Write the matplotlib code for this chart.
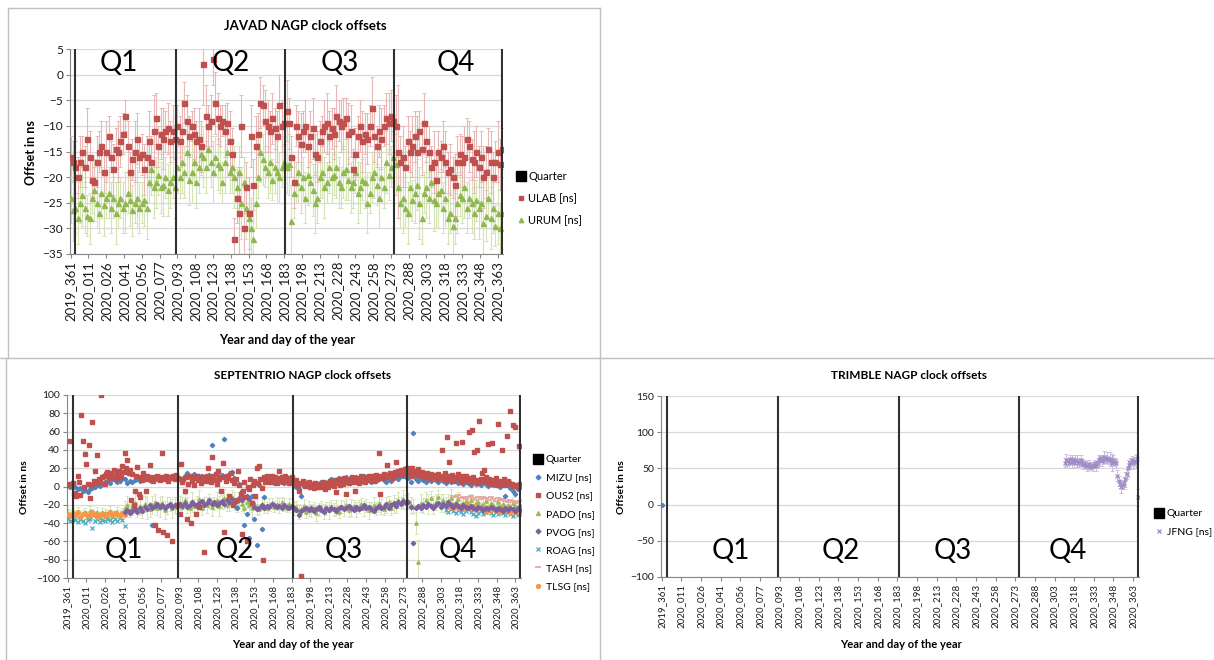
import numpy as np
import matplotlib
matplotlib.use("Agg")
import matplotlib.pyplot as plt
from matplotlib.lines import Line2D

plt.rcParams['font.family'] = ['Lato', 'DejaVu Sans']

# ---------------------------------------------------------------- data
N_DAYS = 365  # category slots from 2019_361 to 2020_363
DAY_LABELS = ['2019_361', '2020_011', '2020_026', '2020_041', '2020_056', '2020_077',
              '2020_093', '2020_108', '2020_123', '2020_138', '2020_153', '2020_168',
              '2020_183', '2020_198', '2020_213', '2020_228', '2020_243', '2020_258',
              '2020_273', '2020_288', '2020_303', '2020_318', '2020_333', '2020_348',
              '2020_363']
QUARTER_IDX = [4, 89, 181, 273, 364]
Q_NAMES = ['Q1', 'Q2', 'Q3', 'Q4']

# JAVAD (every second day from slot 0)
ULAB = [-16, -17, -18,
        -20, -17, -15, -18, -12.5, -16, -20.5, -21, -17, -15, -14, -19, -15, -12, -16, -18.5,
        -14.5, -15, -13, -11.5, -8, -14, -19, -16.5, -15, -12.5, -16, -15.5, -18.5, -16, -13,
        -17, -11, -8.5, -14, -11.5, -12.5, -11, -10.5, -13, -11, -12.5,
        -10, -13, -11, -5.5, -9, -12, -10, -11.5, -13, -12.5, -14, 2, -8, -10, -9, 3, -5.5,
        -8.5, -10, -9, -11, -9.5, -13, -15.5, -32, -24, -27, -10, -30, -22, -27, -12, -21.5,
        -14, -11.5, -5.5, -6, -9, -10, -11, -8.5, -10.5, -12, -6, -10, -9.5,
        -7, -9.5, -16, -21, -10, -12, -13.5, -11, -10, -14, -12, -10.5, -15.5, -16, -13, -11,
        -10, -9.5, -12, -10.5, -11.5, -8, -9, -10, -9.5, -8.5, -11.5, -11, -18.5, -15.5, -12,
        -10, -13, -11.5, -12.5, -10, -6.5, -12, -14, -11, -12.5, -10, -8.5, -9.5, -8, -9, -10,
        -15, -17, -16, -18, -13, -15, -14, -12, -15, -11, -14.5, -9.5, -13, -15, -18, -17,
        -20.5, -15, -16, -14, -17, -19, -18.5, -20, -21.5, -17, -15.5, -17, -16, -12.5, -14,
        -16.5, -17, -15, -18, -16, -20, -19, -14.5, -17, -20, -17, -15, -17.5, -14.5]
ULAB_ERR = [4, 4, 5,
            4, 5, 3, 4, 6, 5, 4, 3, 5, 4, 5, 4, 6, 4, 3, 5, 4, 6, 5, 4, 3, 5, 4, 4, 6, 5, 3, 4,
            5, 4, 6, 5, 7, 5, 4, 5, 6, 4, 5, 4, 5, 4,
            4, 5, 6, 4, 5, 4, 3, 5, 4, 6, 5, 8, 6, 4, 5, 5, 6, 5, 4, 3, 5, 4, 6, 5, 4, 5, 9, 6,
            8, 5, 7, 6, 5, 6, 4, 5, 4, 6, 5, 4, 5, 4, 5, 6, 5, 4,
            6, 5, 4, 5, 4, 5, 6, 4, 5, 4, 5, 6, 4, 5, 4, 3, 5, 6, 5, 4, 5, 6, 4, 5, 5, 4, 6, 5,
            4, 5, 4, 5, 6, 4, 5, 4, 6, 5, 4, 5, 6, 4, 5, 6, 5, 4, 6,
            13, 5, 6, 4, 5, 4, 6, 5, 7, 4, 5, 6, 4, 5, 4, 6, 5, 4, 3, 5, 6, 4, 5, 4, 6, 5, 4, 5,
            6, 4, 5, 4, 6, 5, 4, 5, 6, 5, 4, 6, 5, 4, 6, 5, 4]
URUM = [-24, -26.5, -26,
        -28, -25, -23.5, -26, -27.5, -28, -24, -22.5, -25, -27, -23, -25.5, -24, -23, -26, -24,
        -27, -25, -24, -26, -25, -23, -24.5, -26.5, -25, -24, -26, -25, -24.5, -26, -21, -18.5,
        -22, -21, -19.5, -22, -21.5, -20, -22.5, -21, -20, -22,
        -18, -20, -17, -19, -15, -20.5, -19, -17, -21, -18, -15.5, -16, -18, -14.5, -17, -19,
        -16, -17.5, -18, -21, -17, -15, -19, -18, -20, -22, -19, -25, -21, -26, -28, -30, -32,
        -25, -20, -15, -16.5, -18, -19, -17, -20.5, -18, -19, -20, -18, -17,
        -18, -17.5, -28.5, -23, -21, -19, -22, -20, -24, -19.5, -21, -22.5, -25, -24, -20, -19,
        -22, -21, -18, -20, -19.5, -18, -21, -22, -19, -18.5, -20.5, -22, -21, -19, -23, -22,
        -20.5, -21, -25, -23, -20, -19, -21.5, -24, -20, -22, -17, -19.5, -18, -16, -17.5,
        -22, -25, -24, -26, -27, -22, -24.5, -23, -21.5, -25, -28, -23, -22, -24, -21, -24.5,
        -25, -23, -22.5, -26, -24, -28, -27, -29.5, -28, -25, -23.5, -24, -22, -26, -24, -25,
        -27, -24.5, -26, -25, -29, -27.5, -24, -28, -26, -29.5, -27, -30, -27]
URUM_ERR = [5, 6, 5,
            5, 4, 6, 5, 4, 5, 3, 6, 5, 4, 5, 6, 4, 5, 5, 4, 6, 5, 4, 5, 6, 4, 5, 5, 4, 6, 5, 4,
            5, 6, 4, 5, 6, 5, 4, 5, 6, 4, 5, 5, 4, 6,
            5, 4, 6, 5, 4, 5, 6, 4, 5, 5, 4, 6, 5, 4, 5, 6, 4, 5, 5, 4, 6, 5, 4, 5, 6, 4, 5, 7,
            5, 6, 8, 6, 7, 5, 4, 6, 5, 4, 5, 6, 4, 5, 6, 5, 4, 5,
            5, 6, 7, 5, 4, 6, 5, 4, 5, 6, 4, 5, 6, 5, 4, 5, 6, 4, 5, 5, 4, 6, 5, 4, 5, 6, 4, 5,
            5, 4, 6, 5, 4, 5, 6, 4, 5, 5, 4, 6, 5, 4, 6, 5, 4, 5, 6,
            6, 5, 7, 4, 6, 5, 4, 6, 5, 7, 5, 4, 6, 5, 4, 6, 5, 7, 4, 5, 6, 5, 4, 7, 5, 6, 4, 5,
            6, 5, 4, 6, 5, 4, 6, 5, 7, 5, 4, 6, 5, 4, 6, 5, 7]

# SEPTENTRIO
MIZU = [2, 0, 3,
        -1, -3, -2, -5, -4, -6, -3, -2, 0, 2, 1, 3, 5, 6, 4, 8, 7, 5, 6, 9, 8, 4, 6, 5, 7, 8,
        6, 9, 10, 8, 7, -42, 9, 8, 10, 9, 11, 8, 10, 12, 9, 10,
        8, 5, 12, 15, 10, 7, 14, 9, 12, 11, 8, 10, 13, 45, 12, 15, 10, 13, 52, 11, 14, 16, 9,
        -23, 3, -5, -42, -30, -56, -10, -35, -64, 2, -46, -12, 6, 5, 7, 4, 6, 5, 7, 4, 6, 5, 6,
        2, 0, -3, -10, 1, 3, 0, 2, 4, 1, 3, 5, 2, 4, 6, 8, 5, 7, 9, 6, 8, 10, 7, 9, 8, 10, 6,
        9, 11, 8, 7, 5, 9, 6, 8, 10, 7, 5, 8, 6, 9, 10, 8, 11, 12, 10, 9,
        5, 59, 8, 6, 9, 7, 5, 8, 6, 10, 7, 5, 8, 6, 4, 7, 5, 8, 6, 4, 5, 3, 6, 4, 2, 5, 3, 4,
        2, 5, 3, 1, 4, 2, 5, 3, 0, 4, -10, 2, -2, -5, -8, -3, 0]
# OUS2 is daily (slot 0 .. 364)
OUS2 = [2, 50, 3, 2, 4,
        -8, -7, -10, 12, 5, -9, 78, 50, 0, 35, 25, 3, 45, -13, 2, 70, 6, 17, 4, 34,
        8, 5, 100, 10, 12, 3, 14, 16, 9, 13, 15, 11, 18, 12, 8, 14, 17, 12, 10, 22,
        16, 37, 20, 29, 15, 18, -15, 14, -20, -5, 12, 21, -8, -12, 10, 7, 15, 8, -5, 11,
        9, 23, 7, 10, 6, -42, 9, 11, -48, 7, 10, 37, -50, 8, 12, -53, 6, 10, 9, -60,
        11, 8, 13, -20, 9,
        -30, 25, 5, 8, -5, 10, -36, 3, 12, -40, 6, 9, 2, -30, 11, 7, -22, 4, 10, 8,
        -72, 6, 12, 20, 9, 5, 32, 11, 7, 14, 3, 17, 8, -5, 10, 26, -50, 6, 12, 9,
        -10, 15, 7, -20, 4, 8, -15, 17, 2, -8, -52, -5, 5, -12, -60, 0, -3, 8, -18, 2,
        6, -10, 20, 4, 22, 8, -2, -80, 10, 5, 12, 7, 9, 5, 11, 6, 8, 10, 4, 9,
        17, 7, 10, 5, 8, 12, 6, 9, 4, 7, 10, 5,
        5, 3, 7, 2, -5, 4, -98, 6, 3, 1, 4, 2, 5, 0, 3, 1, -2, 4, 2, 0,
        3, -1, 2, 5, 1, -3, 4, 0, 2, 6, 3, 5, 1, 7, -6, 4, 8, 2, 6, 3,
        9, 5, -8, 7, 4, 8, 6, 10, 5, -5, 9, 7, 4, 8, 11, 6, 9, 5, 10, 8,
        12, 7, 9, 11, 6, 10, 13, 8, 37, -8, 12, 9, 14, 10, 13, 23, 11, 15, 12, 9,
        14, 16, 27, 13, 17, 15, 18, 14, 16, 19, 17, 20,
        18, 15, 12, 20, 16, 14, 13, 17, 19, 15, 12, 16, 14, 10, 13, 15, 11, 9, 14, 12,
        10, 13, 8, 11, 14, 9, 12, 40, 10, 15, 7, 54, 11, 27, 8, 13, 6, 10, 47, 9,
        14, 8, 5, 49, 11, 7, 12, 6, 9, 60, 5, 62, 10, 38, 7, 40, 4, 72, 8, 15,
        6, 18, 10, 5, 46, 8, 3, 48, 7, 4, 9, 2, 68, 6, 3, 40, 5, 8, 2, 55,
        6, 4, 82, 3, 67, 1, 65, 2, 0, 44, 3]
PADO = [-30, -32, -29,
        -31, -28, -33, -30, -29, -32, -27, -30, -31, -28, -33, -30, -29, -31, -27, -32, -30,
        -28, -31, -29, -24, -20, -26, -22, -18, -25, -21, -27, -19, -23, -25, -20, -17, -24,
        -22, -18, -26, -21, -19, -24, -20, -22,
        -18, -22, -15, -20, -24, -17, -21, -19, -14, -23, -18, -20, -16, -22, -19, -15, -21,
        -17, -13, -20, -18, -12, -16, -21, -15, -19, -23, -17, -20, -24, -18, -22, -25, -19,
        -21, -23, -20, -18, -22, -19, -21, -17, -20, -23, -19, -21,
        -24, -22, -27, -25, -21, -28, -24, -26, -23, -29, -25, -22, -27, -24, -26, -21, -25,
        -23, -28, -22, -24, -20, -26, -23, -21, -25, -22, -19, -24, -21, -26, -23, -20, -24,
        -18, -22, -25, -20, -17, -23, -19, -21, -15, -18, -14, -17, -16,
        -20, -22, -40, -83, -18, -21, -15, -19, -13, -20, -17, -12, -18, -15, -20, -16, -13,
        -19, -17, -14, -21, -18, -16, -20, -15, -22, -18, -17, -21, -19, -16, -22, -18, -20,
        -23, -17, -21, -19, -24, -20, -22, -18, -21, -23, -20]
PADO_ERR = [5, 6, 5,
            5, 6, 5, 4, 6, 5, 6, 5, 4, 6, 5, 6, 4, 5, 6, 5, 4, 6, 5, 6, 8, 10, 7, 9, 11, 8,
            10, 7, 9, 12, 8, 10, 9, 7, 11, 8, 10, 9, 8, 10, 9, 8,
            8, 10, 7, 9, 8, 11, 7, 9, 10, 8, 7, 9, 8, 10, 7, 9, 11, 8, 10, 7, 9, 8, 10, 7, 9,
            8, 6, 7, 8, 9, 7, 8, 6, 7, 8, 6, 7, 5, 6, 7, 8, 6, 7, 5, 6, 7,
            7, 6, 8, 5, 7, 6, 8, 7, 6, 9, 7, 6, 8, 7, 9, 6, 7, 8, 6, 7, 8, 6, 7, 9, 6, 8, 7,
            6, 8, 7, 9, 6, 8, 7, 10, 8, 6, 9, 7, 8, 10, 8, 9, 7, 10, 8, 9,
            9, 8, 12, 25, 10, 8, 9, 11, 8, 10, 9, 8, 10, 7, 9, 8, 10, 9, 7, 8, 6, 7, 5, 6, 7,
            5, 6, 5, 7, 6, 5, 6, 7, 5, 6, 5, 7, 6, 5, 6, 5, 7, 6, 5, 6]
PVOG_START = 46
PVOG = [-28, -26, -29, -27, -25, -28, -24, -27, -22, -25, -20, -23, -21, -19, -22, -20, -23,
        -21, -19, -22, -20, -21,
        -19, -21, -18, -22, -20, -17, -19, -21, -18, -16, -20, -18, -15, -19, -17, -20, -18,
        -16, -19, -15, -17, -14, -18, -16, -13, -15, -12, -10, -14, -18, -22, -25, -24, -20,
        -23, -21, -22, -19, -20, -22, -21, -23, -20, -22, -24, -21,
        -24, -26, -31, -27, -25, -23, -26, -24, -27, -25, -22, -26, -28, -24, -26, -23, -25,
        -27, -24, -22, -25, -23, -21, -24, -26, -22, -25, -23, -20, -24, -22, -25, -27, -23,
        -21, -24, -22, -19, -23, -20, -18, -21, -17, -19, -16, -18, -17,
        -22, -62, -24, -21, -23, -20, -22, -19, -21, -23, -20, -18, -22, -19, -21, -17, -20,
        -22, -19, -21, -23, -20, -22, -24, -21, -23, -25, -22, -24, -26, -23, -25, -22, -24,
        -26, -23, -25, -27, -24, -26, -23, -25, -27, -24, -26]
ROAG_START = [0, 304]
ROAG = [[-36, -38, -35, -37, -39, -36, -38, -40, -37, -35, -45, -38, -36, -39, -37, -38, -35,
         -37, -39, -36, -38, -34, -37, -43],
        [-26, -28, -25, -27, -29, -26, -28, -30, -27, -25, -28, -30, -32, -29, -27, -30, -28,
         -26, -29, -31, -28, -30, -27, -29, -31, -28, -30, -32, -29, -31, -30]]
TASH_START = 310
TASH = [-10, -12, -9, -13, -11, -14, -12, -10, -13, -15, -12, -14, -11, -13, -15, -12, -14,
        -16, -13, -15, -14, -16, -17, -15, -16, -18, -17, -16]
TLSG_START = [0, 304]
TLSG = [[-30, -32, -29, -31, -28, -33, -30, -29, -32, -31, -28, -30, -33, -31, -29, -32, -30,
         -28, -31, -29, -30, -32, -29, -31],
        [-20, -22, -19, -24, -21, -23, -20, -25, -22, -19, -24, -21, -26, -23, -25, -22, -28,
         -24, -26, -23, -27, -25, -28, -24, -27, -26, -29, -25, -28, -27, -29]]

# TRIMBLE (daily from slot 308)
JFNG_START = 308
JFNG = [58, 62, 60, 57, 63, 59, 61, 58, 62, 60, 57, 59, 61, 58, 55, 57, 54, 53, 56, 52,
        54, 53, 55, 57, 54, 58, 61, 64, 60, 62, 66, 63, 65, 61, 63, 60, 58, 62, 59, 57,
        40, 33, 28, 25, 27, 30, 35, 42, 50, 55, 58, 62, 57, 60, 59, 63, 10]
JFNG_ERR = [6, 8, 5, 7, 6, 9, 5, 7, 6, 8, 5, 6, 7, 5, 6, 4, 5, 6, 5, 4,
            5, 6, 4, 5, 7, 6, 8, 5, 7, 6, 8, 6, 7, 5, 9, 6, 12, 7, 5, 6,
            8, 7, 5, 9, 6, 8, 10, 7, 12, 6, 7, 5, 8, 6, 9, 7, 12]
TRIMBLE_FIRST = [0]

# ---------------------------------------------------------------- layout
W, H = 1214, 660
fig = plt.figure(figsize=(W / 100, H / 100), dpi=100)


def fx(px):
    return px / W


def fy(py):
    return 1 - py / H


def make_axes(l, t, r, b):
    return fig.add_axes([fx(l), fy(b), (r - l) / W, (b - t) / H])


def fig_line(x0, y0, x1, y1):
    fig.add_artist(Line2D([fx(x0), fx(x1)], [fy(y0), fy(y1)], color='#c0c0c0', lw=1.0))


fig_line(8, 8, 600, 8)
fig_line(8, 8, 8, 358)
fig_line(0, 358, W, 358)
fig_line(600, 8, 600, H)
fig_line(6, 358, 6, H)

GRID = '#d9d9d9'
AXC = '#868686'
TXT = '#1a1a1a'


def style_axis(ax, ylo, yhi, ystep, xfs, yfs):
    ax.set_xlim(-0.5, N_DAYS - 0.5)
    ax.set_ylim(ylo, yhi)
    ax.set_yticks(np.arange(ylo, yhi + ystep / 2, ystep))
    ax.set_xticks(np.arange(0, 15 * len(DAY_LABELS), 15))
    ax.set_xticklabels(DAY_LABELS, rotation=90, fontsize=xfs, color=TXT)
    ax.tick_params(axis='y', labelsize=yfs, length=3, color=AXC, pad=2, labelcolor=TXT)
    ax.tick_params(axis='x', length=3, color=AXC, pad=2)
    ax.grid(axis='y', color=GRID, lw=0.9)
    ax.set_axisbelow(True)
    for s in ['top', 'right']:
        ax.spines[s].set_visible(False)
    for s in ['left', 'bottom']:
        ax.spines[s].set_color(AXC)
    for q in QUARTER_IDX:
        ax.axvline(q, color='#303030', lw=1.5, zorder=6)


def seg_x(start, n, step):
    return np.arange(start, start + step * n, step)


def quarter_labels(ax, xs, y, fs=20):
    for name, xq in zip(Q_NAMES, xs):
        ax.text(xq, y, name, ha='center', va='center', fontsize=fs, color='black', zorder=7)


quarter_handle = Line2D([], [], ls='none', marker='s', color='black', ms=6.5)

# ---------------- JAVAD
ax1 = make_axes(70, 49, 503, 254)
style_axis(ax1, -35, 5, 5, 9.5, 8.5)
x2 = seg_x(0, len(ULAB), 2)
ax1.errorbar(x2, URUM, yerr=URUM_ERR, fmt='none', ecolor='#d4e3b5', elinewidth=0.8,
             capsize=1.5, capthick=0.7, zorder=2)
ax1.errorbar(x2, ULAB, yerr=ULAB_ERR, fmt='none', ecolor='#e8b7b6', elinewidth=0.8,
             capsize=1.5, capthick=0.7, zorder=3)
ax1.plot(x2, URUM, ls='none', marker='^', ms=3.6, color='#8fb84e', zorder=4)
ax1.plot(x2, ULAB, ls='none', marker='s', ms=3.6, color='#c0504d', zorder=5)
quarter_labels(ax1, [41, 135, 227, 325], 2.2)
ax1.legend([quarter_handle,
            Line2D([], [], ls='none', marker='s', ms=3.2, color='#c0504d'),
            Line2D([], [], ls='none', marker='^', ms=3.2, color='#8fb84e')],
           ['Quarter', 'ULAB [ns]', 'URUM [ns]'], loc='center left',
           bbox_to_anchor=(1.02, 0.27), frameon=False, fontsize=8, handlelength=0.8,
           handletextpad=0.3, labelspacing=1.0, borderaxespad=0)
fig.text(fx(305), fy(26), 'JAVAD NAGP clock offsets', ha='center', va='center',
         fontsize=9.5, fontweight='bold')
fig.text(fx(31), fy(153), 'Offset in ns', ha='center', va='center', rotation=90,
         fontsize=9, fontweight='bold')
fig.text(fx(287), fy(340), 'Year and day of the year', ha='center', va='center',
         fontsize=9, fontweight='bold')

# ---------------- SEPTENTRIO
ax2 = make_axes(67, 395, 521, 578)
style_axis(ax2, -100, 100, 20, 7, 7.5)
xs2 = seg_x(0, len(PADO), 2)
ax2.errorbar(xs2, PADO, yerr=PADO_ERR, fmt='none', ecolor='#d4e3b5', elinewidth=0.7,
             capsize=1.2, capthick=0.6, zorder=2)
ax2.plot(xs2, PADO, ls='none', marker='^', ms=2.4, color='#9bbb59', zorder=3)
for st, vals in zip(ROAG_START, ROAG):
    ax2.plot(seg_x(st, len(vals), 2), vals, ls='none', marker='x', ms=2.6, mew=0.9,
             color='#4bacc6', zorder=3)
for st, vals in zip(TLSG_START, TLSG):
    ax2.plot(seg_x(st, len(vals), 2), vals, ls='none', marker='o', ms=2.6,
             color='#f79646', zorder=4)
ax2.plot(seg_x(TASH_START, len(TASH), 2), TASH, ls='none', marker='_', ms=4, mew=1.2,
         color='#e6a29c', zorder=4)
ax2.plot(seg_x(PVOG_START, len(PVOG), 2), PVOG, ls='none', marker='D', ms=2.2,
         color='#7d60a0', zorder=4)
ax2.plot(xs2, MIZU, ls='none', marker='D', ms=2.2, color='#4f81bd', zorder=5)
ax2.plot(seg_x(0, len(OUS2), 1), OUS2, ls='none', marker='s', ms=2.8, color='#c0504d',
         zorder=5)
quarter_labels(ax2, [45, 134, 222, 314], -69)
ax2.legend([quarter_handle,
            Line2D([], [], ls='none', marker='D', ms=2.4, color='#4f81bd'),
            Line2D([], [], ls='none', marker='s', ms=2.8, color='#c0504d'),
            Line2D([], [], ls='none', marker='^', ms=2.8, color='#9bbb59'),
            Line2D([], [], ls='none', marker='D', ms=2.4, color='#7d60a0'),
            Line2D([], [], ls='none', marker='x', ms=2.8, mew=0.9, color='#4bacc6'),
            Line2D([], [], ls='none', marker='_', ms=4, mew=1.2, color='#e6a29c'),
            Line2D([], [], ls='none', marker='o', ms=2.8, color='#f79646')],
           ['Quarter', 'MIZU [ns]', 'OUS2 [ns]', 'PADO [ns]', 'PVOG [ns]', 'ROAG [ns]',
            'TASH [ns]', 'TLSG [ns]'], loc='center left', bbox_to_anchor=(1.02, 0.30),
           frameon=False, fontsize=7.5, handlelength=0.8, handletextpad=0.3,
           labelspacing=0.85, borderaxespad=0)
fig.text(fx(303), fy(375), 'SEPTENTRIO NAGP clock offsets', ha='center', va='center',
         fontsize=8.5, fontweight='bold')
fig.text(fx(25), fy(487), 'Offset in ns', ha='center', va='center', rotation=90,
         fontsize=7.5, fontweight='bold')
fig.text(fx(293), fy(644), 'Year and day of the year', ha='center', va='center',
         fontsize=8, fontweight='bold')

# ---------------- TRIMBLE
ax3 = make_axes(661, 396, 1139, 577)
style_axis(ax3, -100, 150, 50, 7, 7.5)
xj = seg_x(JFNG_START, len(JFNG), 1)
ax3.errorbar(xj, JFNG, yerr=JFNG_ERR, fmt='none', ecolor='#c9bbdb', elinewidth=0.7,
             capsize=1.2, capthick=0.6, zorder=2)
ax3.plot(xj, JFNG, ls='none', marker='x', ms=2.8, mew=0.9, color='#a08cc4', zorder=4)
ax3.plot([0], TRIMBLE_FIRST, ls='none', marker='D', ms=2.2, color='#4f81bd', zorder=4)
quarter_labels(ax3, [53, 137, 222, 310], -64)
ax3.legend([quarter_handle,
            Line2D([], [], ls='none', marker='x', ms=2.8, mew=0.9, color='#a08cc4')],
           ['Quarter', 'JFNG [ns]'], loc='center left', bbox_to_anchor=(1.025, 0.30),
           frameon=False, fontsize=7.5, handlelength=0.8, handletextpad=0.3,
           labelspacing=0.85, borderaxespad=0)
fig.text(fx(909), fy(375), 'TRIMBLE NAGP clock offsets', ha='center', va='center',
         fontsize=8.5, fontweight='bold')
fig.text(fx(622), fy(487), 'Offset in ns', ha='center', va='center', rotation=90,
         fontsize=7.5, fontweight='bold')
fig.text(fx(901), fy(644), 'Year and day of the year', ha='center', va='center',
         fontsize=8, fontweight='bold')

fig.savefig('out.png', dpi=100)
